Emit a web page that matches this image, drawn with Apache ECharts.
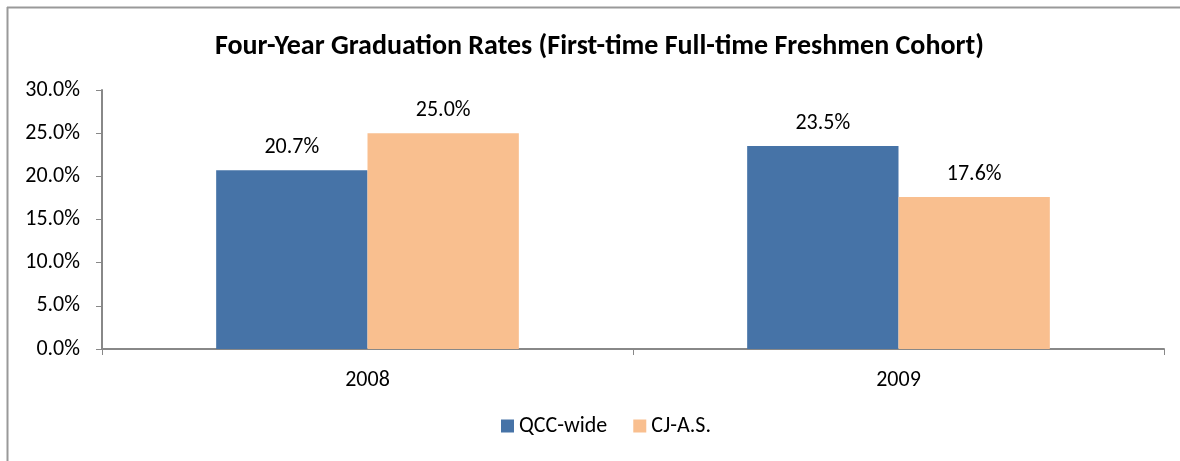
<!DOCTYPE html>
<html>
<head>
<meta charset="utf-8">
<script src="https://cdn.jsdelivr.net/npm/echarts@6/dist/echarts.min.js"></script>
<style>
  html, body { margin: 0; padding: 0; background: #fff; }
  #gradChart { width: 1180px; height: 461px; }
</style>
</head>
<body>
<div id="gradChart"></div>
<script>
// data
var years = ['2008', '2009'];
var qccWide = [20.7, 23.5];
var cjAs = [25.0, 17.6];
var seriesNames = ['QCC-wide', 'CJ-A.S.'];

var font = 'Calibri, Carlito, "Open Sans", "Noto Sans", sans-serif';

function pct(v) { return v.toFixed(1) + '%'; }

var gradChart = echarts.init(document.getElementById('gradChart'));
var option = {
    backgroundColor: '#fff',
    textStyle: { fontFamily: font },
    animation: false,
    title: {
        text: 'Four-Year Graduation Rates (First-time Full-time Freshmen Cohort)',
        left: 210,
        top: 28,
        textStyle: { fontSize: 28, fontWeight: 'bold', color: '#000', fontFamily: font }
    },
    graphic: [
        { type: 'line', shape: { x1: 7, y1: 7.5, x2: 1180, y2: 7.5 }, style: { stroke: '#999', lineWidth: 2 } },
        { type: 'line', shape: { x1: 7.5, y1: 7, x2: 7.5, y2: 461 }, style: { stroke: '#999', lineWidth: 2 } }
    ],
    legend: {
        data: seriesNames,
        bottom: 19,
        left: 496,
        icon: 'rect',
        itemWidth: 13,
        itemHeight: 13,
        itemGap: 26,
        textStyle: { fontSize: 22, color: '#000', fontFamily: font }
    },
    grid: { left: 102, right: 16, top: 90, bottom: 112 },
    xAxis: {
        type: 'category',
        data: years,
        axisLine: { lineStyle: { color: '#888', width: 2 } },
        axisTick: { show: true, length: 6, lineStyle: { color: '#888' } },
        axisLabel: { fontSize: 22, color: '#000', margin: 20 }
    },
    yAxis: {
        type: 'value',
        min: 0,
        max: 30,
        interval: 5,
        axisLine: { show: true, lineStyle: { color: '#888', width: 2 } },
        axisTick: { show: true, length: 6, lineStyle: { color: '#888' } },
        splitLine: { show: false },
        axisLabel: { fontSize: 22, color: '#000', margin: 22, formatter: pct }
    },
    series: [
        {
            name: seriesNames[0],
            type: 'bar',
            data: qccWide,
            barGap: '0%',
            barCategoryGap: '43%',
            itemStyle: { color: '#4673A7' },
            label: {
                show: true, position: 'top', distance: 12, fontSize: 22, color: '#000',
                formatter: function (p) { return pct(p.value); }
            }
        },
        {
            name: seriesNames[1],
            type: 'bar',
            data: cjAs,
            itemStyle: { color: '#F9BF8F' },
            label: {
                show: true, position: 'top', distance: 12, fontSize: 22, color: '#000',
                formatter: function (p) { return pct(p.value); }
            }
        }
    ]
};
gradChart.setOption(option);
</script>
</body>
</html>
